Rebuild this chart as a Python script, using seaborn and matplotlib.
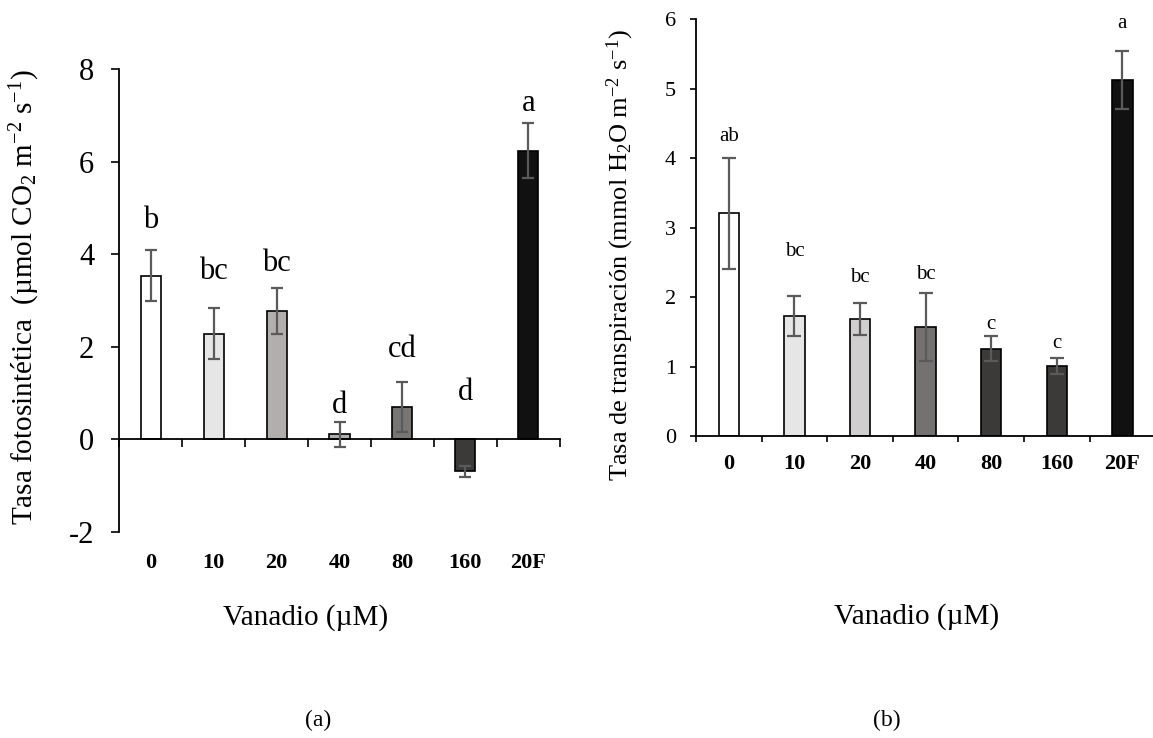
import matplotlib
matplotlib.use("Agg")
import matplotlib.pyplot as plt
import seaborn as sns
import pandas as pd
import numpy as np

# ---- data ----
categories = ["0", "10", "20", "40", "80", "160", "20F"]

photo_mean = [3.54, 2.28, 2.77, 0.11, 0.70, -0.69, 6.24]
photo_err = [0.55, 0.55, 0.50, 0.27, 0.54, 0.12, 0.60]
photo_letters = ["b", "bc", "bc", "d", "cd", "d", "a"]
photo_letter_y = [4.74, 3.62, 3.79, 0.72, 1.93, 1.00, 7.26]

trans_mean = [3.21, 1.73, 1.68, 1.57, 1.26, 1.01, 5.13]
trans_err = [0.80, 0.29, 0.23, 0.49, 0.18, 0.12, 0.42]
trans_letters = ["ab", "bc", "bc", "bc", "c", "c", "a"]
trans_letter_y = [4.31, 2.65, 2.28, 2.33, 1.60, 1.33, 5.94]

photo_colors = ["#ffffff", "#e6e6e6", "#b1aeac", "#b0afae", "#787573", "#3b3a39", "#111111"]
trans_colors = ["#ffffff", "#e6e6e6", "#d0cecf", "#757170", "#3b3a39", "#3b3a39", "#111111"]

sns.set_theme(style="white")
plt.rcParams["font.family"] = ["Liberation Serif", "DejaVu Serif"]
plt.rcParams["mathtext.fontset"] = "custom"
plt.rcParams["mathtext.rm"] = "Liberation Serif"
plt.rcParams["mathtext.it"] = "Liberation Serif"
plt.rcParams["mathtext.bf"] = "Liberation Serif:bold"
for k in ["text.color", "axes.labelcolor", "xtick.color", "ytick.color", "axes.edgecolor"]:
    plt.rcParams[k] = "black"

fig = plt.figure(figsize=(11.53, 7.38), dpi=100)
axL = fig.add_axes([0.1035, 0.2795, 0.3819, 0.6266])
axR = fig.add_axes([0.6036, 0.4092, 0.3983, 0.5646])

df_p = pd.DataFrame({"cat": categories, "val": photo_mean})
df_t = pd.DataFrame({"cat": categories, "val": trans_mean})


def draw(ax, df, err, colors, letters, letter_y, ylim, yticks, ytick_fs, ytick_pad,
         letter_fs, xtick_pad, capsize, tlen, bar_w):
    sns.barplot(data=df, x="cat", y="val", hue="cat", order=categories,
                hue_order=categories, palette=colors, width=bar_w,
                edgecolor="black", linewidth=1.2, legend=False, ax=ax,
                errorbar=None, saturation=1)
    xs = np.arange(len(categories))
    ax.errorbar(xs, df["val"], yerr=err, fmt="none", ecolor="#5a5a5a",
                elinewidth=1.6, capsize=capsize, capthick=1.6, zorder=5)
    for x, lab, ly in zip(xs, letters, letter_y):
        ax.text(x, ly, lab, ha="center", va="center", fontsize=letter_fs)
    for s in ["top", "right"]:
        ax.spines[s].set_visible(False)
    for s in ["left", "bottom"]:
        ax.spines[s].set_color("black")
        ax.spines[s].set_linewidth(1.3)
    ax.spines["bottom"].set_position(("data", 0))
    ax.set_xlim(-0.5, len(categories) - 0.5)
    ax.set_ylim(*ylim)
    ax.set_yticks(yticks)
    ax.set_yticklabels([str(t) for t in yticks])
    ax.set_xticks(xs)
    ax.set_xticklabels(categories)
    ax.set_xticks(np.arange(-0.5, len(categories)), minor=True)
    ax.tick_params(axis="x", which="major", length=0, pad=xtick_pad, labelsize=16)
    ax.tick_params(axis="x", which="minor", length=tlen, width=1.2,
                   direction="out", bottom=True, color="black")
    ax.tick_params(axis="y", which="major", length=tlen, width=1.2,
                   direction="out", left=True, color="black", pad=ytick_pad,
                   labelsize=ytick_fs)
    for t in ax.get_xticklabels():
        t.set_fontweight("bold")
    ax.set_xlabel("")
    ax.set_ylabel("")
    ax.set_facecolor("white")
    ax.grid(False)


draw(axL, df_p, photo_err, photo_colors, photo_letters, photo_letter_y,
     (-2, 8), [-2, 0, 2, 4, 6, 8], 22, 12, 22, 82, 4.2, 6, 0.32)
draw(axR, df_t, trans_err, trans_colors, trans_letters, trans_letter_y,
     (0, 6), [0, 1, 2, 3, 4, 5, 6], 16, 10, 15, 13, 5.2, 4.5, 0.31)

axL.set_ylabel("Tasa fotosintética  (µmol CO$_2$ m$^{-2}$ s$^{-1}$)", fontsize=21)
axL.yaxis.set_label_coords(-0.214, 0.508)
axR.set_ylabel("Tasa de transpiración (mmol H$_2$O m$^{-2}$ s$^{-1}$)", fontsize=19)
axR.yaxis.set_label_coords(-0.1656, 0.434)
for ax in (axL, axR):
    ax.yaxis.label.set_va("center")

fig.text(306 / 1153, 1 - 618 / 738, "Vanadio (µM)", ha="center", va="center", fontsize=21)
fig.text(917 / 1153, 1 - 617 / 738, "Vanadio (µM)", ha="center", va="center", fontsize=21)
fig.text(318 / 1153, 1 - 720 / 738, "(a)", ha="center", va="center", fontsize=17)
fig.text(887 / 1153, 1 - 720 / 738, "(b)", ha="center", va="center", fontsize=17)

fig.savefig("out.png", dpi=100, facecolor="white")
